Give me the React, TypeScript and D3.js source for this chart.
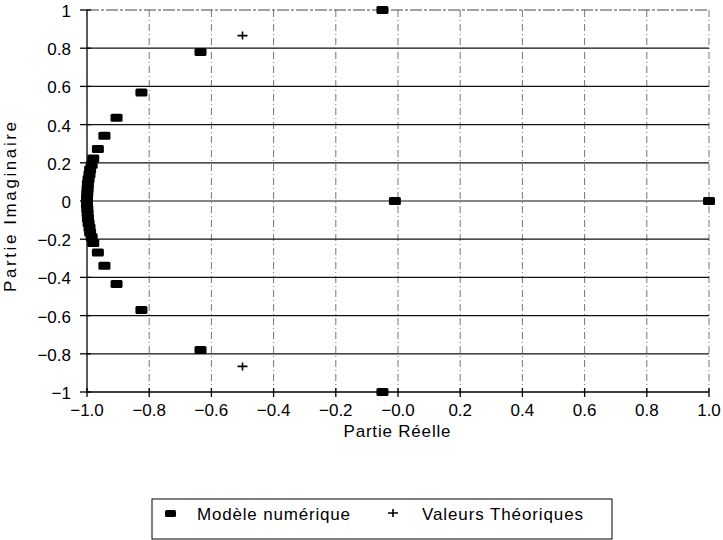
import React, { useRef, useEffect } from "react";
import * as d3 from "d3";

// modèle numérique : valeurs propres (partie réelle, partie imaginaire)
const numReal = [
  1.0, -0.01, -0.05, -0.05, -0.635, -0.635, -0.825, -0.825, -0.905, -0.905,
  -0.944, -0.944, -0.965, -0.965, -0.98, -0.98, -0.985, -0.985, -0.99, -0.99,
  -0.992, -0.992, -0.995, -0.995, -0.997, -0.997, -0.998, -0.998, -0.999,
  -0.999, -1.0, -1.0, -1.0,
];
const numImag = [
  0.0, 0.0, 1.0, -1.0, 0.78, -0.78, 0.568, -0.571, 0.436, -0.435, 0.342,
  -0.339, 0.272, -0.269, 0.222, -0.22, 0.19, -0.19, 0.165, -0.165, 0.14, -0.14,
  0.115, -0.115, 0.09, -0.09, 0.065, -0.065, 0.04, -0.04, 0.02, -0.02, 0.0,
];

// valeurs théoriques
const theoReal = [1.0, -0.5, -0.5];
const theoImag = [0.0, 0.866, -0.866];

const xTicks = [-1, -0.8, -0.6, -0.4, -0.2, 0, 0.2, 0.4, 0.6, 0.8, 1];
const xTickLabels = ["−1.0", "−0.8", "−0.6", "−0.4", "−0.2", "−0.0", "0.2", "0.4", "0.6", "0.8", "1.0"];
const yTicks = [-1, -0.8, -0.6, -0.4, -0.2, 0, 0.2, 0.4, 0.6, 0.8, 1];
const yTickLabels = ["−1", "−0.8", "−0.6", "−0.4", "−0.2", "0", "0.2", "0.4", "0.6", "0.8", "1"];

const legendLabels = ["Modèle numérique", "Valeurs Théoriques"];

const App = () => {
  const svgRef = useRef<SVGSVGElement | null>(null);

  useEffect(() => {
    const svg = d3.select(svgRef.current);
    svg.selectAll("*").remove();

    const width = 723;
    const height = 540;
    const font = "'Liberation Sans', Arial, sans-serif";
    svg.attr("width", width).attr("height", height);

    const x = d3.scaleLinear().domain([-1, 1]).range([87, 709]);
    const y = d3.scaleLinear().domain([-1, 1]).range([392, 10]);

    // grille verticale (tirets-points, plus claire)
    svg
      .append("g")
      .selectAll("line")
      .data(xTicks.slice(1))
      .enter()
      .append("line")
      .attr("x1", (d) => x(d))
      .attr("x2", (d) => x(d))
      .attr("y1", y(1))
      .attr("y2", y(-1))
      .attr("stroke", "#777")
      .attr("stroke-width", 1)
      .attr("stroke-dasharray", "7,3,1,3");

    // grille horizontale
    svg
      .append("g")
      .selectAll("line")
      .data(yTicks.slice(1, -1))
      .enter()
      .append("line")
      .attr("x1", x(-1))
      .attr("x2", x(1))
      .attr("y1", (d) => y(d))
      .attr("y2", (d) => y(d))
      .attr("stroke", "#111")
      .attr("stroke-width", 1.2);

    // bord du haut
    svg
      .append("line")
      .attr("x1", x(-1))
      .attr("x2", x(1))
      .attr("y1", y(1))
      .attr("y2", y(1))
      .attr("stroke", "#444")
      .attr("stroke-width", 1)
      .attr("stroke-dasharray", "12,2,3,2");

    // axes
    svg
      .append("line")
      .attr("x1", x(-1))
      .attr("x2", x(1))
      .attr("y1", y(-1))
      .attr("y2", y(-1))
      .attr("stroke", "#000")
      .attr("stroke-width", 1.4);
    svg
      .append("line")
      .attr("x1", x(-1))
      .attr("x2", x(-1))
      .attr("y1", y(1))
      .attr("y2", y(-1))
      .attr("stroke", "#000")
      .attr("stroke-width", 1.3);

    // graduations
    svg
      .append("g")
      .selectAll("line")
      .data(xTicks)
      .enter()
      .append("line")
      .attr("x1", (d) => x(d))
      .attr("x2", (d) => x(d))
      .attr("y1", y(-1) - 4)
      .attr("y2", y(-1) + 5)
      .attr("stroke", "#000")
      .attr("stroke-width", 1.3);
    svg
      .append("g")
      .selectAll("line")
      .data(yTicks)
      .enter()
      .append("line")
      .attr("x1", x(-1) - 7)
      .attr("x2", x(-1) + 4)
      .attr("y1", (d) => y(d))
      .attr("y2", (d) => y(d))
      .attr("stroke", "#000")
      .attr("stroke-width", 1.3);

    // étiquettes
    svg
      .append("g")
      .selectAll("text")
      .data(xTicks)
      .enter()
      .append("text")
      .attr("x", (d) => x(d))
      .attr("y", 416)
      .attr("text-anchor", "middle")
      .attr("font-family", font)
      .attr("font-size", 17)
      .text((d, i) => xTickLabels[i]);
    svg
      .append("g")
      .selectAll("text")
      .data(yTicks)
      .enter()
      .append("text")
      .attr("x", 71)
      .attr("y", (d) => y(d) + 7)
      .attr("text-anchor", "end")
      .attr("font-family", font)
      .attr("font-size", 17)
      .text((d, i) => yTickLabels[i]);

    svg
      .append("text")
      .attr("x", 397)
      .attr("y", 437)
      .attr("text-anchor", "middle")
      .attr("font-family", font)
      .attr("font-size", 17)
      .attr("textLength", 107)
      .attr("lengthAdjust", "spacing")
      .text("Partie Réelle");
    svg
      .append("text")
      .attr("transform", "translate(16,207) rotate(-90)")
      .attr("text-anchor", "middle")
      .attr("font-family", font)
      .attr("font-size", 17)
      .attr("textLength", 170)
      .attr("lengthAdjust", "spacing")
      .text("Partie Imaginaire");

    // points du modèle numérique
    svg
      .append("g")
      .selectAll("rect")
      .data(numReal.map((r, i) => [r, numImag[i]]))
      .enter()
      .append("rect")
      .attr("x", (d) => x(d[0]) - 6)
      .attr("y", (d) => y(d[1]) - 4)
      .attr("width", 12)
      .attr("height", 8)
      .attr("rx", 1.5)
      .attr("fill", "#000");

    // valeurs théoriques
    svg
      .append("g")
      .selectAll("path")
      .data(theoReal.map((r, i) => [r, theoImag[i]]))
      .enter()
      .append("path")
      .attr("d", "M-5,0H5M0,-4V4")
      .attr("transform", (d) => `translate(${x(d[0])},${y(d[1])})`)
      .attr("stroke", "#000")
      .attr("stroke-width", 1.6);

    // légende
    const lg = svg.append("g");
    lg.append("rect")
      .attr("x", 152)
      .attr("y", 499)
      .attr("width", 460)
      .attr("height", 40)
      .attr("fill", "none")
      .attr("stroke", "#000")
      .attr("stroke-width", 1);
    lg.append("rect")
      .attr("x", 165)
      .attr("y", 510)
      .attr("width", 11)
      .attr("height", 7)
      .attr("rx", 1.5)
      .attr("fill", "#000");
    lg.append("path")
      .attr("d", "M-5,0H5M0,-4V4")
      .attr("transform", "translate(393,513)")
      .attr("stroke", "#000")
      .attr("stroke-width", 1.6);
    lg.append("text")
      .attr("x", 197)
      .attr("y", 520)
      .attr("font-family", font)
      .attr("font-size", 17)
      .attr("textLength", 153)
      .attr("lengthAdjust", "spacing")
      .text(legendLabels[0]);
    lg.append("text")
      .attr("x", 422)
      .attr("y", 520)
      .attr("font-family", font)
      .attr("font-size", 17)
      .attr("textLength", 161)
      .attr("lengthAdjust", "spacing")
      .text(legendLabels[1]);
  }, []);

  return (
    <svg
      ref={svgRef}
      style={{ position: "absolute", left: 0, top: 0, background: "#fff" }}
    />
  );
};

export default App;
